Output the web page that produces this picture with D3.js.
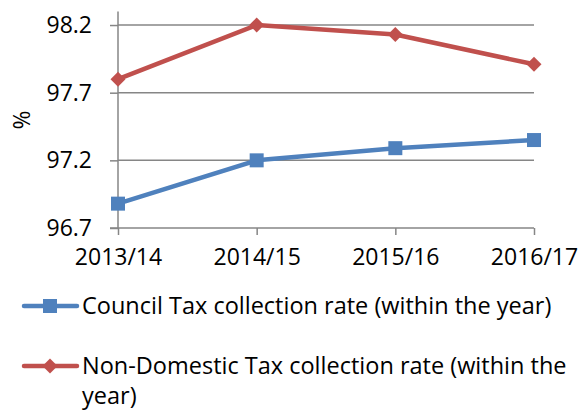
<!DOCTYPE html>
<html><head><meta charset="utf-8">
<script src="https://cdn.jsdelivr.net/npm/d3@7"></script>
<style>
body{margin:0;background:#fff;}
text{font-family:"Open Sans",sans-serif;fill:#000;}
</style></head>
<body>
<svg id="c" width="587" height="411"></svg>
<script>
const categories = ["2013/14","2014/15","2015/16","2016/17"];
const councilTax = [96.88, 97.2, 97.29, 97.35];
const nonDomestic = [97.8, 98.2, 98.13, 97.91];
const yTicks = [96.7, 97.2, 97.7, 98.2];
const seriesNames = [["Council Tax collection rate (within the year)"], ["Non-Domestic Tax collection rate (within the", "year)"]];
const yLabel = "%";

const svg = d3.select("#c");
const x = d3.scalePoint().domain(categories).range([118, 534]).padding(0);
const y = d3.scaleLinear().domain([96.7, 98.3]).range([228, 11.5]);
const fs = 23;
const lfs = 23.5;
const gray = "#868686";

// gridlines
svg.append("g").selectAll("line").data(yTicks.slice(1)).join("line")
  .attr("x1", 118).attr("x2", 534)
  .attr("y1", d => y(d)).attr("y2", d => y(d))
  .attr("stroke", gray).attr("stroke-width", 1.5);

// y axis
const ya = svg.append("g").attr("transform", "translate(118,0)")
  .call(d3.axisLeft(y).tickValues(yTicks).tickSize(8).tickPadding(18).tickFormat(d3.format(".1f")));
ya.select(".domain").attr("stroke", gray).attr("stroke-width", 1.5).attr("d", "M0,11.5V228");
ya.selectAll(".tick line").attr("stroke", gray).attr("stroke-width", 1.5);
ya.selectAll(".tick text").attr("font-size", fs).attr("font-family", "Open Sans").attr("fill", "#000");

// x axis
const xa = svg.append("g").attr("transform", "translate(0,228)")
  .call(d3.axisBottom(x).tickSize(7).tickPadding(14));
xa.select(".domain").attr("stroke", gray).attr("stroke-width", 1.5).attr("d", "M110,0H534");
xa.selectAll(".tick line").attr("stroke", gray).attr("stroke-width", 1.5);
xa.selectAll(".tick text").attr("font-size", fs).attr("font-family", "Open Sans").attr("fill", "#000");

// y label
svg.append("text").attr("transform", "translate(30,120) rotate(-90)")
  .attr("text-anchor", "middle").attr("font-size", fs).text(yLabel);

const series = [
  {name: seriesNames[0], values: councilTax, color: "#4F81BD", sym: d3.symbolSquare, size: 196, rot: 0},
  {name: seriesNames[1], values: nonDomestic, color: "#C0504D", sym: d3.symbolSquare, size: 112, rot: 45}
];
const line = d3.line().x((d, i) => x(categories[i])).y(d => y(d));
series.forEach(s => {
  svg.append("path").attr("d", line(s.values)).attr("fill", "none")
    .attr("stroke", s.color).attr("stroke-width", 4.5).attr("stroke-linejoin", "round").attr("stroke-linecap", "round");
  svg.append("g").selectAll("path").data(s.values).join("path")
    .attr("transform", (d, i) => `translate(${x(categories[i])},${y(d)}) rotate(${s.rot})`)
    .attr("d", d3.symbol(s.sym, s.size)()).attr("fill", s.color);
});

// legend
const leg = [{y: 306, tb: 314}, {y: 366, tb: 374}];
series.forEach((s, i) => {
  const g = svg.append("g");
  g.append("line").attr("x1", 24).attr("x2", 77).attr("y1", leg[i].y).attr("y2", leg[i].y)
    .attr("stroke", s.color).attr("stroke-width", 4.5).attr("stroke-linecap", "round");
  g.append("path").attr("transform", `translate(50,${leg[i].y}) rotate(${s.rot})`)
    .attr("d", d3.symbol(s.sym, s.size)()).attr("fill", s.color);
  const t = g.append("text").attr("x", 82).attr("y", leg[i].tb).attr("font-size", lfs);
  s.name.forEach((ln, j) => t.append("tspan").attr("x", 82).attr("dy", j ? 30 : 0).text(ln));
});
</script>
</body></html>
